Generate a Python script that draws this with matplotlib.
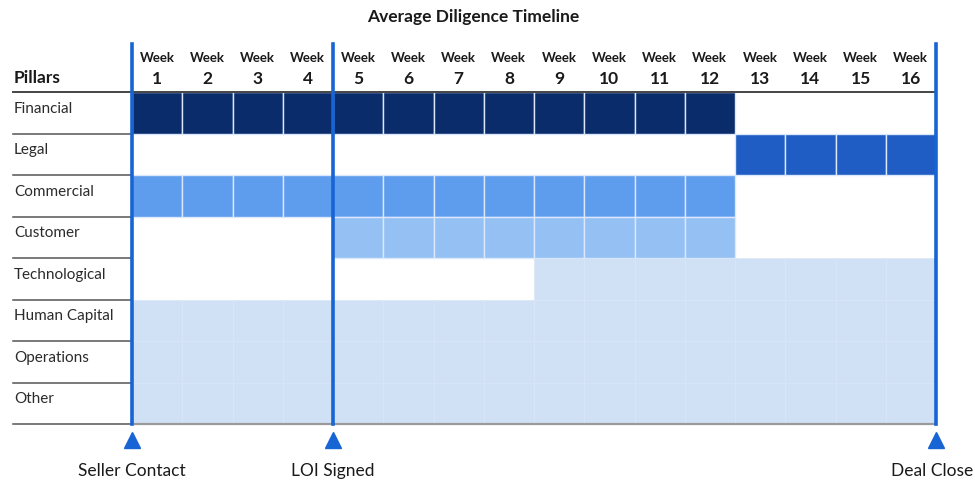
import matplotlib.pyplot as plt
from matplotlib.patches import Rectangle

plt.rcParams['font.family'] = ['Lato', 'DejaVu Sans']

pillars = ["Financial", "Legal", "Commercial", "Customer", "Technological",
           "Human Capital", "Operations", "Other"]
start_week = [1, 13, 1, 5, 9, 1, 1, 1]
end_week = [12, 16, 12, 12, 16, 16, 16, 16]
colors = ["#0a2c6b", "#1f5cc4", "#5e9cee", "#94c0f4",
          "#d0e1f6", "#d0e1f6", "#d0e1f6", "#d0e1f6"]
n_weeks = 16
milestones = ["Seller Contact", "LOI Signed", "Deal Close"]
milestone_week = [0, 4, 16]

fig = plt.figure(figsize=(9.75, 4.81), dpi=100)
ax = fig.add_axes([0, 0, 1, 1])
ax.set_xlim(-2.627, 16.776)
ax.set_ylim(9.349, -2.241)
ax.axis("off")

# week cells, one rectangle per week so white gaps show between them
for i, (s, e, c) in enumerate(zip(start_week, end_week, colors)):
    light = i >= 4
    for w in range(s, e + 1):
        ax.add_patch(Rectangle((w - 1, i), 1, 1, facecolor=c,
                               edgecolor="#d8e6f7" if light else "#dbe8fb",
                               linewidth=0.4 if light else 1.0, zorder=1))

# pillar labels and row rules on the left
for i, name in enumerate(pillars):
    ax.text(-2.35, i + 0.38, name, ha="left", va="center", fontsize=11,
            color="#2b2b2b")
    ax.plot([-2.36, 0], [i + 1, i + 1], color="#555555", lw=1.1, zorder=2)
ax.text(-2.35, -0.36, "Pillars", ha="left", va="center", fontsize=12.5,
        fontweight="bold", color="#1a1a1a")
ax.plot([-2.36, 16], [0, 0], color="#444444", lw=1.4, zorder=2)
ax.plot([0, 16], [8, 8], color="#9a9a9a", lw=1.6, zorder=2)

# week headers
for w in range(1, n_weeks + 1):
    ax.text(w - 0.5, -0.84, "Week", ha="center", va="center", fontsize=9.5,
            fontweight="bold", color="#1a1a1a")
    ax.text(w - 0.5, -0.34, str(w), ha="center", va="center", fontsize=12.5,
            fontweight="bold", color="#1a1a1a")

# milestone lines, markers and labels (last label kept inside the right edge)
for name, w in zip(milestones, milestone_week):
    ax.plot([w, w], [-1.16, 8], color="#1764d4", lw=2.6, zorder=3)
    ax.plot(w, 8.38, marker="^", markersize=12, color="#1764d4",
            linestyle="none", zorder=3)
    if w == n_weeks:
        ax.text(16.75, 9.1, name, ha="right", va="center", fontsize=12.5,
                color="#1a1a1a")
    else:
        ax.text(w, 9.1, name, ha="center", va="center", fontsize=12.5,
                color="#1a1a1a")

ax.text(6.8, -1.83, "Average Diligence Timeline", ha="center", va="center",
        fontsize=12.5, fontweight="bold", color="#1a1a1a")

fig.savefig("out.png", dpi=100, facecolor="white")
